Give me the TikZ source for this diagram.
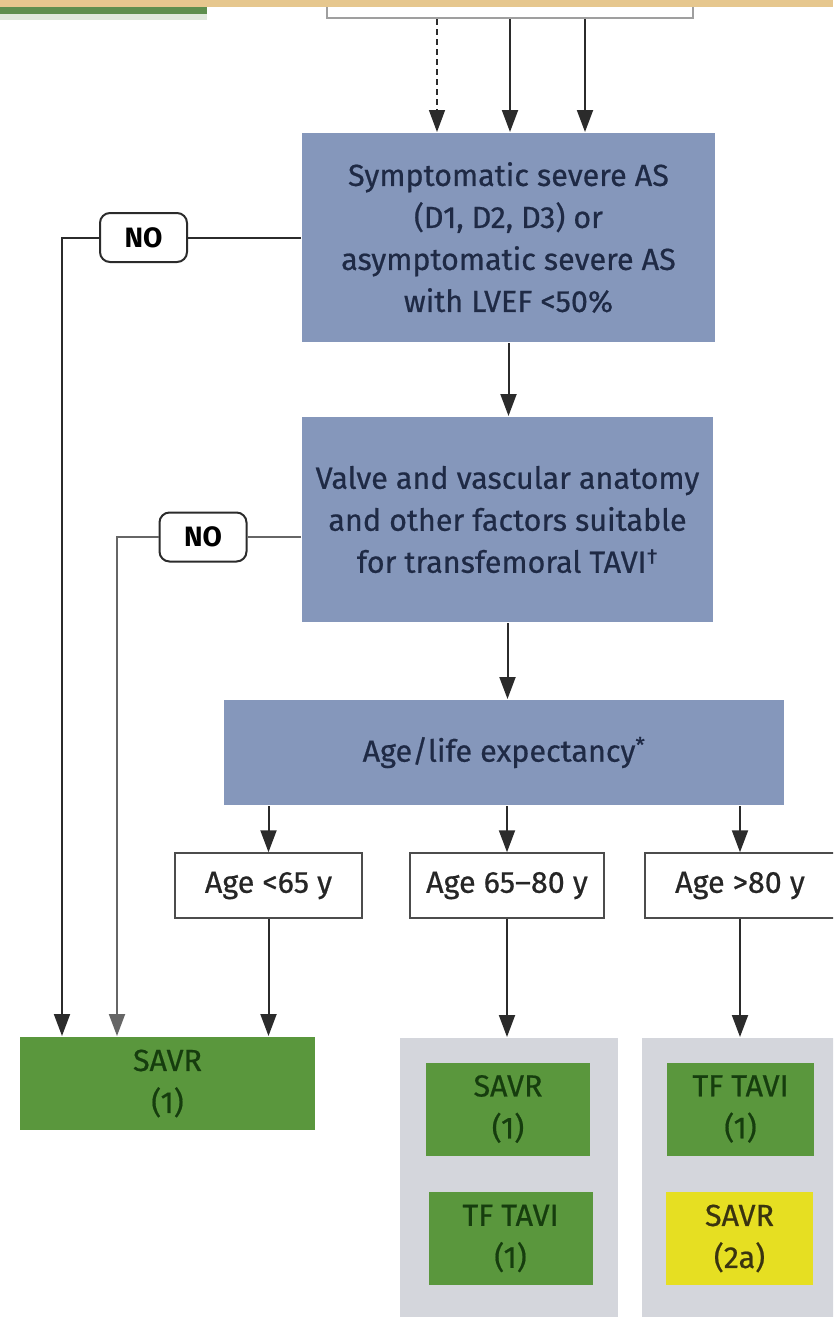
\documentclass[tikz,border=0pt]{standalone}
\usepackage{fontspec}
\setmainfont{Fira Sans}
\newfontfamily\boxfont{Fira Sans}[FakeBold=0.6]
\usetikzlibrary{arrows.meta,positioning}
\definecolor{stripTan}{HTML}{E6C78E}
\definecolor{barGreen}{HTML}{5E8F4E}
\definecolor{askBlue}{HTML}{8597BB}
\definecolor{askText}{HTML}{1F2A45}
\definecolor{recGreen}{HTML}{5A973D}
\definecolor{recGreenText}{HTML}{163D0E}
\definecolor{recYellow}{HTML}{E6DF22}
\definecolor{recYellowText}{HTML}{3A3410}
\definecolor{panelGray}{HTML}{D4D6DC}
\definecolor{lineGray}{HTML}{2B2B2B}

\begin{document}
\begin{tikzpicture}[x=1pt,y=-1pt,>={Triangle[width=16pt,length=22pt]},
    line width=2pt, draw=lineGray,
    every node/.style={font=\boxfont\fontsize{30.5}{42}\selectfont, align=center, inner sep=0pt},
    question/.style={fill=askBlue, text=askText},
    agebox/.style={draw=gray!60!black, line width=1.5pt, fill=white, text=black!85, minimum height=65pt},
    rec/.style={fill=recGreen, text=recGreenText, minimum height=93pt},
    panel/.style={fill=panelGray, minimum height=300pt, anchor=north},
    nolabel/.style={draw=lineGray, fill=white, rounded corners=10pt, minimum width=87pt,
        minimum height=49pt, font=\fontsize{28}{32}\selectfont\bfseries}]
    \useasboundingbox (0,0) rectangle (833,1317);
    \clip (0,0) rectangle (833,1317);

    % cut-off part above
    \node[draw=gray!75, fill=white, minimum width=366pt, minimum height=76pt] (prev) at (510,-20) {};
    \fill[stripTan] (0,0) rectangle (833,7);
    \fill[barGreen] (0,7) rectangle (207,14);
    \fill[barGreen!20] (0,14) rectangle (207,20);

    \node[question, minimum width=413pt, minimum height=209pt] (sym) at (508.5,237.5)
        {Symptomatic severe AS\\(D1, D2, D3) or\\asymptomatic severe AS\\with LVEF <50\%};
    \node[question, minimum width=411pt, minimum height=205pt] (anat) at (507.5,519.5)
        {Valve and vascular anatomy\\and other factors suitable\\for transfemoral TAVI\textsuperscript{\textdagger}};
    \node[question, minimum width=560pt, minimum height=105pt] (age) at (504,752.5)
        {Age/life expectancy\textsuperscript{*}};

    \node[agebox, minimum width=187pt] (young) at (268.5,885.5) {Age <65 y};
    \node[agebox, minimum width=194pt] (mid) at (507,885.5) {Age 65–80 y};
    \node[agebox, minimum width=190pt] (old) at (740,885.5) {Age >80 y};

    \node[rec, minimum width=295pt] (savr) at (167.5,1083.5) {SAVR\\(1)};
    \node[panel, minimum width=218pt] (grpmid) at (509,1037) {};
    \node[panel, minimum width=200pt] (grpold) at (742,1037) {};
    \node[rec, minimum width=164pt] (midsavr) at (508,1109) {SAVR\\(1)};
    \node[rec, minimum width=164pt] (midtavi) at (510.5,1238.5) {TF TAVI\\(1)};
    \node[rec, minimum width=147pt] (oldtavi) at (740.5,1109) {TF TAVI\\(1)};
    \node[rec, minimum width=147pt, fill=recYellow, text=recYellowText] (oldsavr) at (739.5,1238.5) {SAVR\\(2a)};

    \node[nolabel] (no1) at (143.5,237.5) {NO};
    \node[nolabel] (no2) at (203,537) {NO};

    \draw[->, line width=1.5pt, dash pattern=on 6pt off 4pt] ([xshift=-73pt]prev.south) -- ([xshift=-73pt]prev.south |- sym.north);
    \draw[->] (prev.south) -- (prev.south |- sym.north);
    \draw[->] ([xshift=75pt]prev.south) -- ([xshift=75pt]prev.south |- sym.north);

    \draw[->] (sym.south) -- (sym.south |- anat.north);
    \draw[->] (anat.south) -- (anat.south |- age.north);

    \draw[->] (age.south -| young) -- (young);
    \draw[->] (age.south -| mid) -- (mid);
    \draw[->] (age.south -| old) -- (old);

    \draw[->] (young) -- (young |- savr.north);
    \draw[->] (mid) -- (mid |- grpmid.north);
    \draw[->] (old) -- (old |- grpold.north);

    \draw (sym.west) -- (no1);
    \draw[->] (no1) -| ([xshift=43pt]savr.north west);
    \draw[draw=gray!80!black] (no2 -| anat.west) -- (no2);
    \draw[->, draw=gray!80!black] (no2) -| ([xshift=98pt]savr.north west);
\end{tikzpicture}
\end{document}
